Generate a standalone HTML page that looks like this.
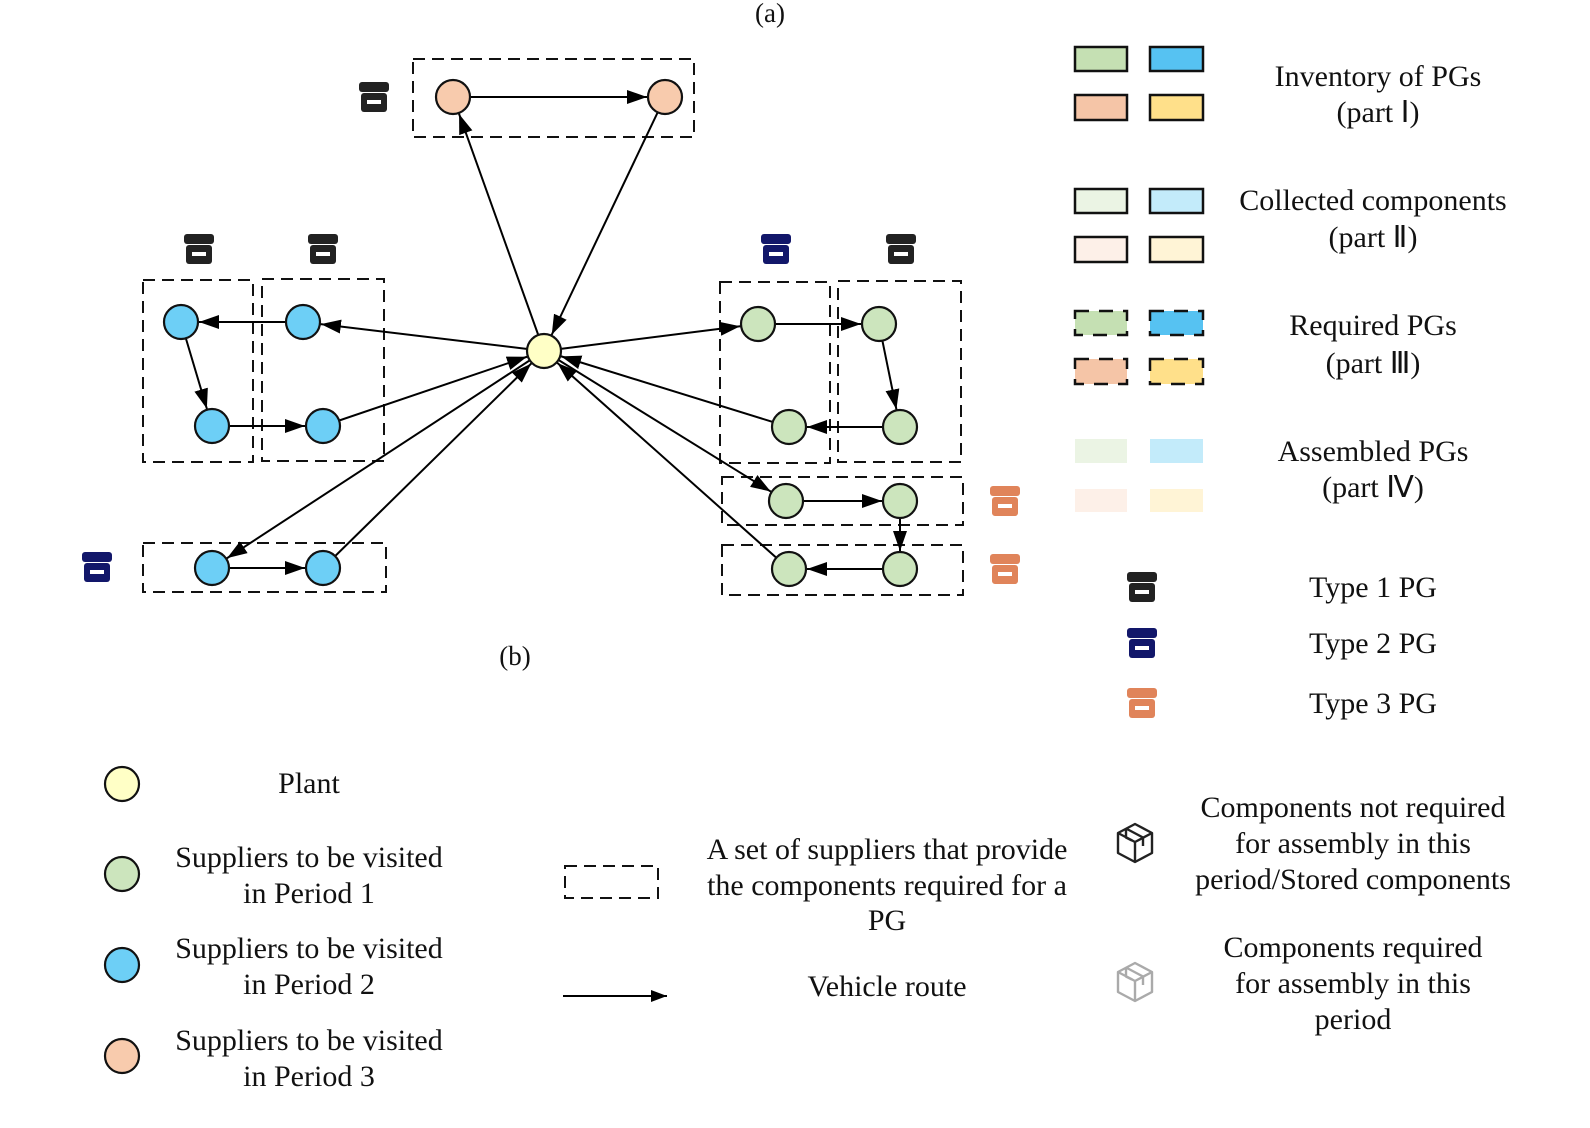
<!DOCTYPE html>
<html><head><meta charset="utf-8"><style>
html,body{margin:0;padding:0;background:#fff;}
svg{display:block;}
text{font-family:"Liberation Serif",serif;fill:#111;}
</style></head><body>
<svg width="1590" height="1128" viewBox="0 0 1590 1128" xmlns="http://www.w3.org/2000/svg">
<defs>
<marker id="ar" markerUnits="userSpaceOnUse" markerWidth="42" markerHeight="16" refX="38" refY="7" orient="auto">
<path d="M0,0 L20,7 L0,14 z" fill="#000"/>
</marker>
<marker id="ar2" markerUnits="userSpaceOnUse" markerWidth="20" markerHeight="14" refX="16" refY="6" orient="auto">
<path d="M0,0 L16,6 L0,12 z" fill="#000"/>
</marker>
<g id="box">
<rect x="-15" y="-15" width="30" height="10" rx="3"/>
<rect x="-13" y="-4" width="26" height="19" rx="3"/>
<rect x="-7" y="3" width="14" height="4" fill="#fff"/>
</g>
<g id="pkg" fill="none" stroke-width="2.4" stroke-linejoin="round">
<path d="M0,-19 L17,-10 L17,10 L0,19 L-17,10 L-17,-10 Z"/>
<path d="M-17,-10 L0,-1 L17,-10 M0,-1 L0,19"/>
<path d="M-9,-14.5 L8,-5.5 L8,3 M-9,-14.5 L-9,-5.5 L-3,-2.5"/>
</g>
</defs>

<text x="770" y="22" font-size="27" text-anchor="middle">(a)</text>
<text x="515" y="665" font-size="27" text-anchor="middle">(b)</text>

<g fill="none" stroke="#111" stroke-width="2" stroke-dasharray="12,7">
<rect x="413" y="59" width="281" height="78"/>
<rect x="143" y="280" width="110" height="182"/>
<rect x="262" y="279" width="122" height="182"/>
<rect x="143" y="543" width="243" height="49"/>
<rect x="720" y="282" width="110" height="181"/>
<rect x="838" y="281" width="123" height="181"/>
<rect x="722" y="477" width="241" height="48"/>
<rect x="722" y="545" width="241" height="50"/>
</g>

<g stroke="#000" stroke-width="2" marker-end="url(#ar)">
<line x1="544" y1="351" x2="453" y2="97"/>
<line x1="453" y1="97" x2="665" y2="97"/>
<line x1="665" y1="97" x2="544" y2="351"/>
<line x1="544" y1="351" x2="303" y2="322"/>
<line x1="303" y1="322" x2="181" y2="322"/>
<line x1="181" y1="322" x2="212" y2="426"/>
<line x1="212" y1="426" x2="323" y2="426"/>
<line x1="323" y1="426" x2="544" y2="351"/>
<line x1="544" y1="351" x2="212" y2="568"/>
<line x1="212" y1="568" x2="323" y2="568"/>
<line x1="323" y1="568" x2="544" y2="351"/>
<line x1="544" y1="351" x2="758" y2="324"/>
<line x1="758" y1="324" x2="879" y2="324"/>
<line x1="879" y1="324" x2="900" y2="427"/>
<line x1="900" y1="427" x2="789" y2="427"/>
<line x1="789" y1="427" x2="544" y2="351"/>
<line x1="544" y1="351" x2="786" y2="501"/>
<line x1="786" y1="501" x2="900" y2="501"/>
<line x1="900" y1="501" x2="900" y2="569"/>
<line x1="900" y1="569" x2="789" y2="569"/>
<line x1="789" y1="569" x2="544" y2="351"/>
</g>

<g stroke="#111" stroke-width="2.2">
<circle cx="544" cy="351" r="17" fill="#ffffc6"/>
<circle cx="453" cy="97" r="17" fill="#f8cbad"/>
<circle cx="665" cy="97" r="17" fill="#f8cbad"/>
<g fill="#6dcff6">
<circle cx="181" cy="322" r="17"/><circle cx="303" cy="322" r="17"/>
<circle cx="212" cy="426" r="17"/><circle cx="323" cy="426" r="17"/>
<circle cx="212" cy="568" r="17"/><circle cx="323" cy="568" r="17"/>
</g>
<g fill="#cce5bd">
<circle cx="758" cy="324" r="17"/><circle cx="879" cy="324" r="17"/>
<circle cx="900" cy="427" r="17"/><circle cx="789" cy="427" r="17"/>
<circle cx="786" cy="501" r="17"/><circle cx="900" cy="501" r="17"/>
<circle cx="900" cy="569" r="17"/><circle cx="789" cy="569" r="17"/>
</g>
</g>

<g fill="#222">
<use href="#box" x="374" y="97"/>
<use href="#box" x="199" y="249"/>
<use href="#box" x="323" y="249"/>
<use href="#box" x="901" y="249"/>
<use href="#box" x="1142" y="587"/>
</g>
<g fill="#12176a">
<use href="#box" x="97" y="567"/>
<use href="#box" x="776" y="249"/>
<use href="#box" x="1142" y="643"/>
</g>
<g fill="#e0845a">
<use href="#box" x="1005" y="501"/>
<use href="#box" x="1005" y="569"/>
<use href="#box" x="1142" y="703"/>
</g>

<g stroke="#111" stroke-width="2.5">
<rect x="1075" y="47" width="52" height="24" fill="#c5e0b3"/>
<rect x="1150" y="47" width="53" height="24" fill="#56c2f2"/>
<rect x="1075" y="95" width="52" height="25" fill="#f5c5a7"/>
<rect x="1150" y="95" width="53" height="25" fill="#ffe08a"/>
<rect x="1075" y="189" width="52" height="24" fill="#ebf4e4"/>
<rect x="1150" y="189" width="53" height="24" fill="#c3ebfa"/>
<rect x="1075" y="237" width="52" height="25" fill="#fdf0e8"/>
<rect x="1150" y="237" width="53" height="25" fill="#fff4d6"/>
</g>
<g stroke="#111" stroke-width="2.5" stroke-dasharray="14,10">
<rect x="1075" y="311" width="52" height="24" fill="#c5e0b3"/>
<rect x="1150" y="311" width="53" height="24" fill="#56c2f2"/>
<rect x="1075" y="359" width="52" height="25" fill="#f5c5a7"/>
<rect x="1150" y="359" width="53" height="25" fill="#ffe08a"/>
</g>
<rect x="1075" y="439" width="52" height="24" fill="#ebf4e4"/>
<rect x="1150" y="439" width="53" height="24" fill="#c3ebfa"/>
<rect x="1075" y="489" width="52" height="23" fill="#fdf0e8"/>
<rect x="1150" y="489" width="53" height="23" fill="#fff4d6"/>

<g font-size="30" text-anchor="middle">
<text x="1378" y="86">Inventory of PGs</text>
<text x="1378" y="122">(part Ⅰ)</text>
<text x="1373" y="210">Collected components</text>
<text x="1373" y="247">(part Ⅱ)</text>
<text x="1373" y="335">Required PGs</text>
<text x="1373" y="373">(part Ⅲ)</text>
<text x="1373" y="461">Assembled PGs</text>
<text x="1373" y="497">(part Ⅳ)</text>
<text x="1373" y="597">Type 1 PG</text>
<text x="1373" y="653">Type 2 PG</text>
<text x="1373" y="713">Type 3 PG</text>
</g>

<g stroke="#111" stroke-width="2.2">
<circle cx="122" cy="784" r="17" fill="#ffffc6"/>
<circle cx="122" cy="874" r="17" fill="#cce5bd"/>
<circle cx="122" cy="965" r="17" fill="#6dcff6"/>
<circle cx="122" cy="1056" r="17" fill="#f8cbad"/>
</g>
<rect x="565" y="866" width="93" height="32" fill="none" stroke="#111" stroke-width="2" stroke-dasharray="12,7"/>
<line x1="563" y1="996" x2="667" y2="996" stroke="#000" stroke-width="2" marker-end="url(#ar2)"/>
<use href="#pkg" x="1135" y="843" stroke="#222"/>
<use href="#pkg" x="1135" y="982" stroke="#aaa"/>

<g font-size="30" text-anchor="middle">
<text x="309" y="793">Plant</text>
<text x="309" y="867">Suppliers to be visited</text>
<text x="309" y="903">in Period 1</text>
<text x="309" y="958">Suppliers to be visited</text>
<text x="309" y="994">in Period  2</text>
<text x="309" y="1050">Suppliers to be visited</text>
<text x="309" y="1086">in Period 3</text>
<text x="887" y="859">A set of suppliers that provide</text>
<text x="887" y="895">the components required for a</text>
<text x="887" y="930">PG</text>
<text x="887" y="996">Vehicle route</text>
<text x="1353" y="817">Components not required</text>
<text x="1353" y="853">for assembly in this</text>
<text x="1353" y="889">period/Stored components</text>
<text x="1353" y="957">Components  required</text>
<text x="1353" y="993">for assembly  in this</text>
<text x="1353" y="1029">period</text>
</g>
</svg>
</body></html>
